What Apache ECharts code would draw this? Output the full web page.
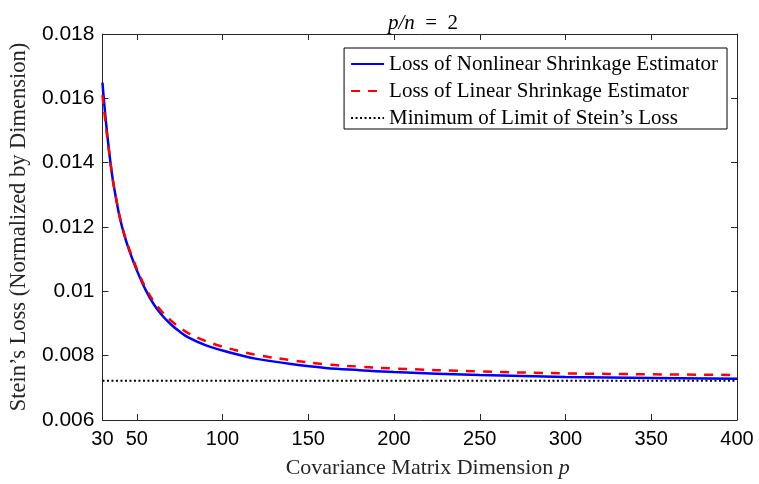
<!DOCTYPE html>
<html>
<head>
<meta charset="utf-8">
<script src="https://cdn.jsdelivr.net/npm/echarts@6/dist/echarts.min.js"></script>
<style>html,body{margin:0;padding:0;background:#fff}#c{width:759px;height:484px}</style>
</head>
<body>
<div id="c"></div>
<script>
const dims = [30, 32, 34, 36, 38, 40, 43, 46, 50, 55, 60, 65, 70, 75, 80, 90, 100, 110, 120, 140, 160, 180, 200, 250, 300, 350, 400];
const nonlinearLoss = [0.01649, 0.01529, 0.01430, 0.01348, 0.01287, 0.01232, 0.01170, 0.01122, 0.01066, 0.01006, 0.00959, 0.00924, 0.00897, 0.00875, 0.00857, 0.00833, 0.00816, 0.00802, 0.00790, 0.00774, 0.00762, 0.00755, 0.00749, 0.00740, 0.00734, 0.007305, 0.00728];
const linearLoss = [0.01610, 0.01515, 0.01428, 0.01348, 0.01288, 0.01234, 0.01173, 0.01126, 0.01071, 0.01013, 0.00968, 0.00935, 0.00909, 0.00888, 0.00870, 0.00846, 0.00828, 0.00814, 0.00802, 0.00786, 0.00773, 0.00766, 0.00760, 0.00751, 0.00745, 0.00742, 0.00740];
const minLimitLoss = 0.00722;
const xTicks = [30, 50, 100, 150, 200, 250, 300, 350, 400];

const serif = '"Liberation Serif", "DejaVu Serif", serif';
const sans = '"Liberation Sans", Arial, sans-serif';
const axisColor = '#262626';

const chart = echarts.init(document.getElementById('c'), null, {renderer: 'canvas'});
const pair = arr => dims.map((d, i) => [d, arr[i]]);

chart.setOption({
  animation: false,
  backgroundColor: '#fff',
  title: {
    text: '{i|p/n}  =  2',
    left: 418, top: 8, textAlign: 'center',
    textStyle: {fontFamily: serif, fontWeight: 'normal', fontSize: 21, color: '#000',
      rich: {i: {fontFamily: serif, fontStyle: 'italic', fontSize: 21, color: '#000'}}}
  },
  grid: {left: 100, right: 22, top: 34, bottom: 64, containLabel: false},
  legend: {
    orient: 'vertical',
    right: 32, top: 48,
    backgroundColor: '#fff',
    borderColor: '#000', borderWidth: 1,
    padding: [5, 9, 0, 6],
    itemWidth: 33, itemHeight: 14, itemGap: 5,
    itemStyle: {opacity: 0},
    textStyle: {fontFamily: serif, fontSize: 21, lineHeight: 22, color: '#000'},
    data: ['Loss of Nonlinear Shrinkage Estimator', 'Loss of Linear Shrinkage Estimator', 'Minimum of Limit of Stein\u2019s Loss']
  },
  xAxis: [{
    type: 'value', min: 30, max: 400, position: 'bottom',
    name: 'Covariance Matrix Dimension {i|p}', nameLocation: 'middle', nameGap: 37,
    nameTextStyle: {fontFamily: serif, fontSize: 22, color: '#262626', padding: [0, 0, 0, 16],
      rich: {i: {fontFamily: serif, fontStyle: 'italic', fontSize: 22}}},
    axisLine: {show: true, lineStyle: {color: axisColor, width: 1}},
    axisTick: {show: true, inside: true, length: 6, customValues: xTicks, lineStyle: {color: axisColor}},
    axisLabel: {customValues: xTicks, fontFamily: sans, fontSize: 20, color: '#000', margin: 9},
    splitLine: {show: false}
  }, {
    type: 'value', min: 30, max: 400, position: 'top',
    axisLine: {show: true, onZero: false, lineStyle: {color: axisColor, width: 1}},
    axisTick: {show: true, inside: true, length: 6, customValues: xTicks, lineStyle: {color: axisColor}},
    axisLabel: {show: false},
    splitLine: {show: false}
  }],
  yAxis: [{
    type: 'value', min: 0.006, max: 0.018, interval: 0.002, position: 'left',
    name: 'Stein\u2019s Loss (Normalized by Dimension)', nameLocation: 'middle', nameGap: 70,
    nameTextStyle: {fontFamily: serif, fontSize: 22.5, color: '#262626'},
    axisLine: {show: true, lineStyle: {color: axisColor, width: 1}},
    axisTick: {show: true, inside: true, length: 6, lineStyle: {color: axisColor}},
    axisLabel: {fontFamily: sans, fontSize: 21, color: '#000', margin: 8,
      formatter: v => String(parseFloat(v.toFixed(3)))},
    splitLine: {show: false}
  }, {
    type: 'value', min: 0.006, max: 0.018, interval: 0.002, position: 'right',
    axisLine: {show: true, onZero: false, lineStyle: {color: axisColor, width: 1}},
    axisTick: {show: true, inside: true, length: 6, lineStyle: {color: axisColor}},
    axisLabel: {show: false},
    splitLine: {show: false}
  }],
  series: [{
    name: 'Minimum of Limit of Stein\u2019s Loss', type: 'line',
    data: [[30, minLimitLoss], [400, minLimitLoss]],
    symbol: 'none',
    lineStyle: {color: '#000', width: 2, type: [2, 2.5]},
    itemStyle: {color: '#000'}, z: 2
  }, {
    name: 'Loss of Nonlinear Shrinkage Estimator', type: 'line',
    data: pair(nonlinearLoss), smooth: 0.4,
    symbol: 'none',
    lineStyle: {color: '#0000ff', width: 2.5},
    itemStyle: {color: '#0000ff'}, z: 3
  }, {
    name: 'Loss of Linear Shrinkage Estimator', type: 'line',
    data: pair(linearLoss), smooth: 0.4,
    symbol: 'none',
    lineStyle: {color: '#ff0000', width: 2.5, type: [9, 8]},
    itemStyle: {color: '#ff0000'}, z: 4
  }]
});
</script>
</body>
</html>
